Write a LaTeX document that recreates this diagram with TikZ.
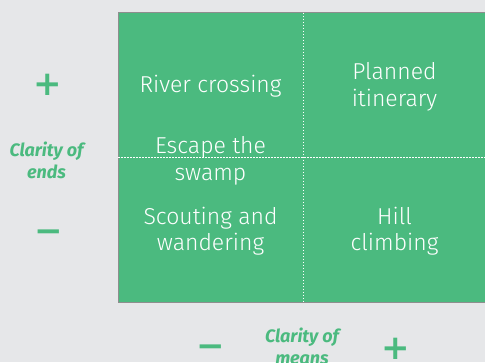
\documentclass[tikz,border=0pt]{standalone}
\usepackage{fontspec}
\setmainfont{Fira Sans}
\newfontfamily\cellfont{Fira Sans Light}
\newfontfamily\signfont{DejaVu Sans}
\definecolor{bggray}{HTML}{E6E7E9}
\definecolor{qgreen}{HTML}{4BBA7F}
\definecolor{edgegray}{HTML}{8E8E8E}
\begin{document}
\begin{tikzpicture}[x=1pt,y=1pt,
  cell/.style={inner sep=0pt, align=center, text=white, font=\cellfont\fontsize{23}{26.5}\selectfont},
  axislabel/.style={inner sep=0pt, align=center, text=qgreen, font=\bfseries\itshape\fontsize{18}{22}\selectfont},
  sign/.style={inner sep=0pt, text=qgreen, font=\signfont\bfseries\fontsize{34}{34}\selectfont},
  divider/.style={white, line width=1.3pt, dash pattern=on 1.3pt off 1.7pt}]
\fill[bggray] (0,0) rectangle (485,362);
\useasboundingbox (0,0) rectangle (485,362);
\coordinate (tl) at (118.3,349.3);
\coordinate (bl) at (118.3,59.7);
\coordinate (tr) at (485,349.3);
\coordinate (br) at (485,59.7);
\fill[qgreen] (bl) rectangle (tr);
\draw[edgegray, line width=1pt] (tr) -- (tl) -- (bl) -- (br);
\coordinate (vt) at (303.3,349.3);
\coordinate (vb) at (303.3,59.7);
\coordinate (hl) at (118.3,204.7);
\coordinate (hr) at (485,204.7);
\draw[divider] (vt) -- (vb);
\draw[divider] (hl) -- (hr);
\node[cell] (river) at (210.5,276) {River crossing};
\node[cell] (planned) at (394.5,275) {Planned\\itinerary};
\node[cell] (escape) at (210.5,201) {Escape the\\swamp};
\node[cell] (scout) at (210.5,131) {Scouting and\\wandering};
\node[cell] (hill) at (394.5,131) {Hill\\climbing};
\node[axislabel] (ends) at (46.5,202) {Clarity of\\ends};
\node[axislabel] (means) at (302,16) {Clarity of\\means};
\node[sign] (endsplus) at (48,277) {+};
\node[sign] (endsminus) at (48.5,126) {−};
\node[sign] (meansminus) at (210.5,10.5) {−};
\node[sign] (meansplus) at (395.5,13) {+};
\end{tikzpicture}
\end{document}
